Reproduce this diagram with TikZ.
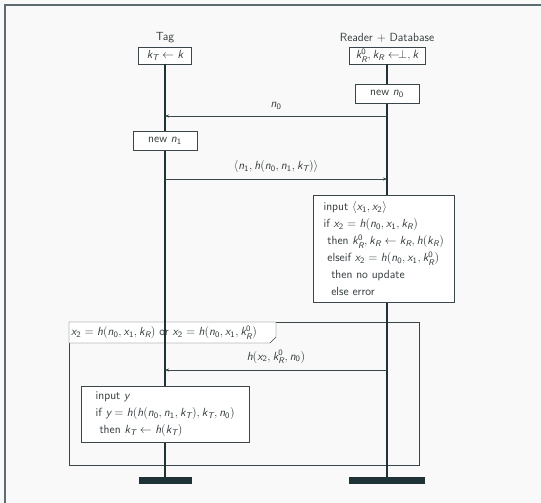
\documentclass[tikz,border=0pt]{standalone}
\usepackage{amsmath,amssymb}
\usepackage{xcolor}
\usepackage{tikz}
\usetikzlibrary{arrows.meta,positioning}
\definecolor{ink}{HTML}{333B3D}
\definecolor{life}{HTML}{1F3337}
\definecolor{edge}{HTML}{3A4649}
\definecolor{paper}{HTML}{F9F9F9}
\definecolor{rim}{HTML}{5E6B70}
% sans letters in math
\DeclareSymbolFont{sfit}{TU}{lmss}{m}{sl}
\DeclareSymbolFont{sfup}{TU}{lmss}{m}{n}
\DeclareMathSymbol{h}{\mathalpha}{sfit}{`h}
\DeclareMathSymbol{k}{\mathalpha}{sfit}{`k}
\DeclareMathSymbol{n}{\mathalpha}{sfit}{`n}
\DeclareMathSymbol{x}{\mathalpha}{sfit}{`x}
\DeclareMathSymbol{y}{\mathalpha}{sfit}{`y}
\DeclareMathSymbol{T}{\mathalpha}{sfit}{`T}
\DeclareMathSymbol{R}{\mathalpha}{sfit}{`R}
\DeclareMathSymbol{0}{\mathord}{sfup}{`0}
\DeclareMathSymbol{1}{\mathord}{sfup}{`1}
\DeclareMathSymbol{2}{\mathord}{sfup}{`2}

\begin{document}
\begin{tikzpicture}[
  x=1pt,y=-1pt,
  font=\fontsize{11.8}{17}\selectfont\sffamily,
  every node/.style={text=ink},
  actor/.style={inner sep=0pt},
  hbox/.style={draw=edge,fill=white,inner sep=2pt,minimum height=17pt},
  act/.style={draw=edge,fill=white,inner sep=2pt,minimum height=19pt,minimum width=64pt},
  note/.style={draw=edge,fill=white,inner sep=5pt,align=left,anchor=north west},
  lifeline/.style={draw=life,line width=1.8pt},
  endbar/.style={fill=life,inner sep=0pt,minimum height=7pt},
  msg/.style={draw=edge,-{Stealth[length=4pt,width=3pt]}},
  frame/.style={draw=edge}
]
\useasboundingbox (0,0) rectangle (541,503);
\fill[paper] (0,0) rectangle (541,503);
\draw[rim,line width=1.2pt] (5,503) -- (5,5) -- (541,5);

% heads
\node[actor] (tag) at (165,38) {Tag};
\node[actor] (rdb) at (387,38) {Reader + Database};
\node[hbox,minimum width=53pt] (tkey) at (165,55.5) {$k_T \leftarrow k$};
\node[hbox,minimum width=76pt,inner sep=1pt] (rkey) at (387,55.5) {$k_R^0, k_R \leftarrow\!\perp, k$};

% ends
\node[endbar,minimum width=53pt] (tend) at (165,480.5) {};
\node[endbar,minimum width=76pt] (rend) at (387,480.5) {};

% alt frame
\draw[frame] (69,322) rectangle (419,465);
\draw[frame,fill=white] (69,322) -- (276,322) -- (276,337) -- (270,343) -- (69,343) -- cycle;
\node[anchor=west,inner sep=0pt] (cond) at (71,332.5)
  {$x_2 = h(n_0,x_1,k_R)$ or $x_2 = h(n_0,x_1,k_R^0)$};

% lifelines
\draw[lifeline] (tkey) -- (tend);
\draw[lifeline] (rkey) -- (rend);

% actions
\node[act] (newn0) at (387,93.5) {new $n_0$};
\node[act] (newn1) at (165,141) {new $n_1$};

\node[note,minimum width=141pt,minimum height=107pt] (check) at (313,195)
  {input $\langle x_1,x_2\rangle$\\
   if $x_2 = h(n_0,x_1,k_R)$\\
   \ then $k_R^0, k_R \leftarrow k_R, h(k_R)$\\
   \ elseif $x_2 = h(n_0,x_1,k_R^0)$\\
   \ \ then no update\\
   \ \ else error};

\node[note,minimum width=168pt,minimum height=56pt] (upd) at (81,386)
  {input $y$\\
   if $y = h(h(n_0,n_1,k_T),k_T,n_0)$\\
   \ then $k_T \leftarrow h(k_T)$};

% messages
\coordinate (t1) at (165,116);
\coordinate (r1) at (387,116);
\coordinate (t2) at (165,179);
\coordinate (r2) at (387,179);
\coordinate (t3) at (165,370);
\coordinate (r3) at (387,370);
\draw[msg] (r1) -- node[above=3pt] {$n_0$} (t1);
\draw[msg] (t2) -- node[above=3pt] {$\langle n_1, h(n_0,n_1,k_T)\rangle$} (r2);
\draw[msg] (r3) -- node[above=3pt] {$h(x_2,k_R^0,n_0)$} (t3);
\end{tikzpicture}
\end{document}
